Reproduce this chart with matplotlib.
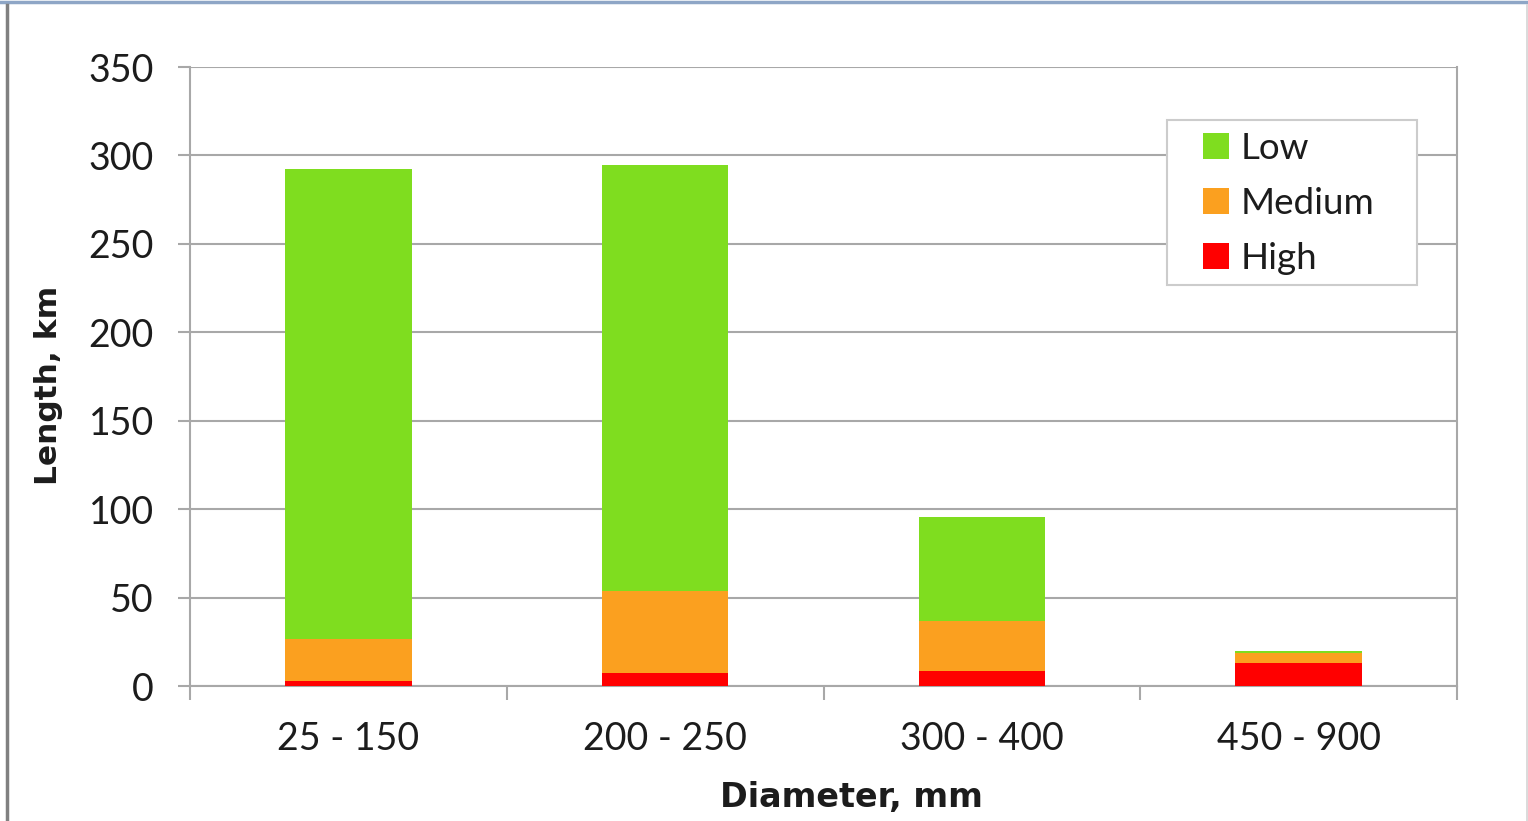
import numpy as np
import matplotlib.pyplot as plt
from matplotlib.lines import Line2D
from matplotlib.patches import Rectangle

# Pipe length by diameter class, split by risk level [km]
diameters = ["25 - 150", "200 - 250", "300 - 400", "450 - 900"]
high = [3.0, 7.5, 8.5, 12.9]
medium = [23.3, 46.0, 28.1, 5.9]
low = [265.9, 240.9, 59.0, 0.9]

levels = ["Low", "Medium", "High"]
colors = {"Low": "#7fdd1f", "Medium": "#fba01f", "High": "#ff0000"}

grid_grey = "#a8a8a8"
text_col = "#1c1c1c"

plt.rcParams["font.family"] = ["Lato", "DejaVu Sans"]

fig = plt.figure(figsize=(15.28, 8.21), dpi=100)
W, H = 1528.0, 821.0
ax = fig.add_axes([190 / W, 1 - 686 / H, (1457 - 190) / W, (686 - 67) / H])

# Stacked bars, high at the bottom
x = np.arange(len(diameters))
bottom = np.zeros(len(diameters))
bars = {}
for name, vals in (("High", high), ("Medium", medium), ("Low", low)):
	bars[name] = ax.bar(x, vals, 0.4, bottom=bottom, color=colors[name],
		linewidth=0, zorder=3)
	bottom = bottom + np.array(vals)

# Axes formatting
ax.set_xlim(-0.5, len(diameters) - 0.5)
ax.set_ylim(0, 350)
ax.set_yticks(np.arange(0, 351, 50))
ax.yaxis.grid(True, color=grid_grey, linewidth=1.5, zorder=0)
ax.set_axisbelow(True)

ax.set_xticks(np.arange(len(diameters) + 1) - 0.5)
ax.set_xticklabels([])
ax.set_xticks(x, minor=True)
ax.set_xticklabels(diameters, minor=True)
ax.tick_params(axis="x", which="major", direction="out", length=10,
	width=1.5, color=grid_grey)
ax.tick_params(axis="x", which="minor", length=0, pad=25,
	labelsize=27, labelcolor=text_col)
ax.tick_params(axis="y", direction="out", length=9, width=1.5,
	color=grid_grey, pad=17, labelsize=27, labelcolor=text_col)

for side in ("left", "bottom", "right"):
	ax.spines[side].set_color(grid_grey)
	ax.spines[side].set_linewidth(1.5)
ax.spines["top"].set_visible(False)

label_font = {"family": "DejaVu Sans", "weight": "bold", "color": text_col}
ax.set_xlabel("Diameter, mm", fontdict=label_font, size=24, va="baseline")
ax.xaxis.set_label_coords(0.522, -0.195)
ax.set_ylabel("Length, km", fontdict=label_font, size=22.5)
ax.yaxis.set_label_coords(-0.1, 0.486)

# Legend, with its frame drawn as a separate box
frame = Rectangle((1167 / W, 1 - 285 / H), 250 / W, 165 / H,
	transform=fig.transFigure, facecolor="white", edgecolor="#cccccc",
	linewidth=1.5, zorder=4, clip_on=False)
ax.add_artist(frame)
leg = ax.legend([bars[n] for n in levels], levels, loc="upper left",
	bbox_to_anchor=(1203 / W, 1 - 132 / H), bbox_transform=fig.transFigure,
	frameon=False, fontsize=26.5, borderpad=0, borderaxespad=0,
	handlelength=0.7, handleheight=0.7, handletextpad=0.33, labelspacing=0.6)
for t in leg.get_texts():
	t.set_color(text_col)
leg.set_zorder(5)

# Window border
fig.add_artist(Line2D([0, 1], [1 - 2.5 / H] * 2, transform=fig.transFigure,
	color="#8ea6c6", linewidth=2.5))
fig.add_artist(Line2D([7 / W] * 2, [0, 1 - 5 / H], transform=fig.transFigure,
	color="#808080", linewidth=2.5))
fig.add_artist(Line2D([1526.5 / W] * 2, [0, 1 - 5 / H], transform=fig.transFigure,
	color="#d4d4d4", linewidth=1.2))

fig.savefig("out.png", dpi=100)
